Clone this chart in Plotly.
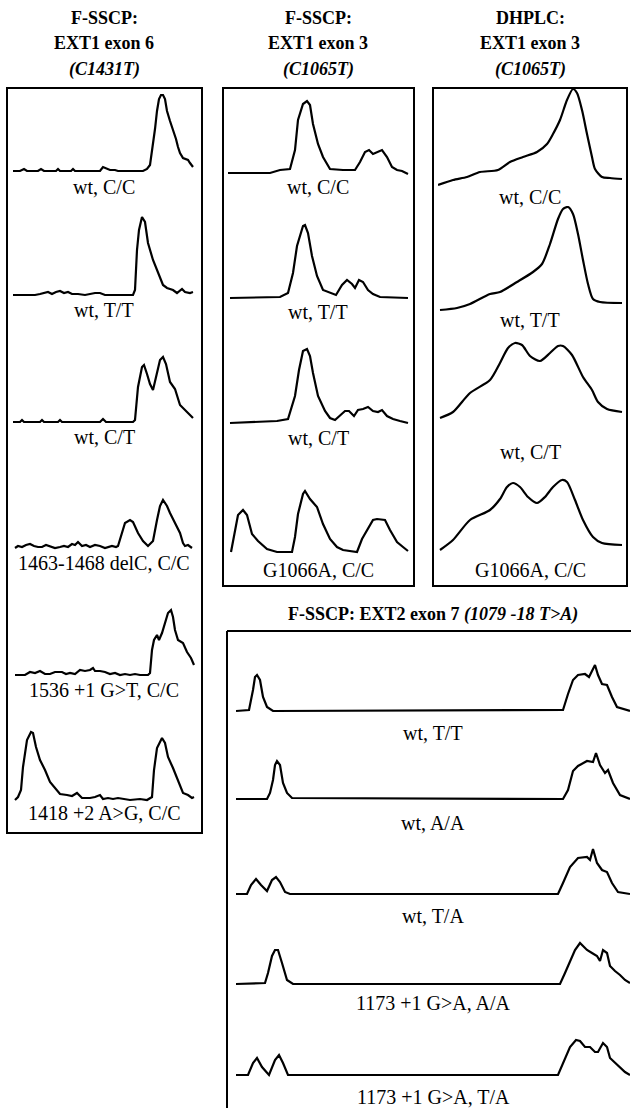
import plotly.graph_objects as go

W, H = 631, 1108

# ---------------- F-SSCP: EXT1 exon 6 (C1431T) ----------------
ex6_labels = ["wt, C/C", "wt, T/T", "wt, C/T", "1463-1468 delC, C/C",
              "1536 +1 G>T, C/C", "1418 +2 A>G, C/C"]
ex6_wt_cc_x = [0, 7, 11, 14, 25, 28, 31, 43, 45, 47, 58, 60, 62, 87, 90, 93, 97, 102, 105, 130,
               134, 137, 140, 142, 144, 146, 148, 150, 152, 154, 157, 160, 163, 165, 167, 170, 173, 175, 177, 180]
ex6_wt_cc_y = [0, 0, 2, 0, 0, 2, 0, 0, 2, 0, 0, 2, 0, 0, 4, 3, 1, 1, 0, 0,
               2, 6, 25, 42, 60, 72, 76, 76, 72, 60, 50, 42, 32, 24, 18, 13, 12, 11, 8, 4]
ex6_wt_tt_x = [0, 22, 27, 35, 39, 43, 47, 51, 55, 59, 65, 72, 82, 87, 92, 107, 120,
               122, 124, 126, 129, 132, 135, 140, 145, 150, 154, 160, 164, 169, 172, 177, 180]
ex6_wt_tt_y = [0, 0, 1, 3, 1, 3, 4, 2, 3, 1, 1, 0, 2, 2, 0, 0, 0,
               5, 45, 65, 78, 73, 52, 35, 23, 10, 7, 5, 2, 6, 3, 2, 3]
ex6_wt_ct_x = [0, 7, 9, 11, 22, 27, 29, 31, 42, 45, 47, 49, 87, 90, 93, 120,
               122, 125, 129, 131, 134, 137, 140, 144, 147, 150, 153, 157, 162, 167, 174, 180]
ex6_wt_ct_y = [0, 0, 2, 0, 0, 0, 2, 0, 0, 0, 2, 0, 0, 3, 0, 0,
               2, 35, 55, 57, 48, 38, 32, 48, 62, 65, 58, 40, 33, 17, 10, 4]
ex6_delc_x = [2, 5, 9, 13, 17, 21, 25, 29, 33, 37, 42, 47, 51, 55, 59, 62, 65, 69, 73, 77,
              82, 87, 92, 99, 103, 105, 109, 112, 117, 120, 125, 130, 135, 140, 144, 147, 150,
              154, 157, 162, 167, 170, 172, 175, 179]
ex6_delc_y = [0, 2, 1, 3, 4, 2, 1, 1, 3, 2, 0, 1, 2, 1, 4, 3, 6, 2, 3, 1,
              3, 2, 0, 2, 1, 2, 15, 25, 28, 26, 15, 7, 2, 7, 28, 42, 48,
              42, 35, 25, 15, 5, 2, 3, 0]
ex6_1536_x = [2, 12, 17, 22, 27, 32, 37, 42, 49, 53, 57, 62, 67, 72, 77, 80, 82, 87, 92, 97,
              102, 107, 112, 117, 122, 127, 135, 137, 139, 141, 144, 146, 149, 152, 155, 158,
              160, 162, 165, 170, 174, 178, 181]
ex6_1536_y = [0, 0, 3, 2, 4, 1, 1, 3, 3, 1, 2, 1, 5, 4, 5, 7, 4, 4, 3, 1,
              2, 0, 1, 0, 1, 0, 0, 2, 25, 35, 40, 35, 42, 52, 62, 65,
              58, 45, 35, 32, 23, 17, 10]
ex6_1418_x = [2, 5, 8, 10, 14, 18, 20, 23, 27, 32, 37, 42, 47, 54, 59, 64, 69, 77, 82, 87,
              90, 95, 100, 105, 110, 117, 127, 134, 139, 141, 144, 149, 152, 155, 160, 167,
              170, 175, 179, 181]
ex6_1418_y = [0, 3, 10, 33, 60, 68, 67, 53, 40, 30, 18, 12, 6, 5, 4, 7, 2, 2, 3, 5,
              1, 2, 1, 2, 1, 0, 1, 0, 3, 30, 52, 62, 57, 43, 32, 15,
              7, 5, 2, 3]

# ---------------- F-SSCP: EXT1 exon 3 (C1065T) ----------------
ex3_labels = ["wt, C/C", "wt, T/T", "wt, C/T", "G1066A, C/C"]
ex3_wt_cc_x = [0, 42, 52, 62, 67, 70, 75, 79, 82, 85, 90, 95, 102, 115, 127, 132, 137, 141,
               145, 150, 154, 159, 164, 169, 174, 180]
ex3_wt_cc_y = [0, 0, 3, 4, 23, 53, 69, 72, 68, 49, 29, 16, 4, 3, 3, 11, 21, 23,
               19, 21, 23, 16, 6, 3, 2, -1]
ex3_wt_tt_x = [2, 52, 60, 65, 69, 75, 77, 80, 84, 89, 95, 102, 108, 114, 119, 124, 127, 131,
               135, 140, 145, 152, 180]
ex3_wt_tt_y = [0, 1, 5, 25, 52, 72, 73, 65, 42, 22, 8, 5, 3, 13, 18, 14, 10, 18,
               16, 8, 4, 1, 0]
ex3_wt_ct_x = [2, 49, 60, 67, 71, 75, 79, 82, 85, 90, 97, 102, 107, 113, 117, 121, 126, 130,
               135, 140, 145, 150, 154, 159, 165, 172, 180]
ex3_wt_ct_y = [0, 2, 4, 27, 53, 72, 74, 67, 50, 27, 12, 5, 3, 8, 12, 12, 7, 13,
               14, 16, 12, 11, 13, 7, 4, 2, 0]
ex3_g1066a_x = [3, 6, 10, 15, 19, 24, 30, 39, 49, 64, 67, 70, 75, 77, 82, 89, 95, 102, 109, 115,
                129, 134, 139, 145, 149, 157, 162, 169, 175, 180]
ex3_g1066a_y = [0, 15, 37, 42, 37, 18, 11, 3, 0, 0, 15, 38, 58, 61, 53, 45, 28, 13, 5, 2,
                0, 13, 22, 32, 33, 32, 22, 10, 5, 1]

# ---------------- DHPLC: EXT1 exon 3 (C1065T) ----------------
dh_labels = ["wt, C/C", "wt, T/T", "wt, C/T", "G1066A, C/C"]
dh_wt_cc_x = [0, 15, 29, 42, 60, 72, 85, 99, 109, 115, 122, 129, 135, 139, 144, 149, 154, 157, 164, 172, 184]
dh_wt_cc_y = [2, 7, 10, 15, 17, 25, 30, 35, 43, 53, 67, 87, 98, 94, 77, 53, 30, 18, 10, 9, 8]
dh_wt_tt_x = [2, 19, 32, 52, 62, 79, 95, 104, 112, 120, 125, 130, 135, 140, 145, 150, 155, 162, 184]
dh_wt_tt_y = [2, 4, 8, 18, 20, 30, 40, 48, 68, 93, 103, 105, 98, 78, 52, 28, 13, 10, 9]
dh_wt_ct_x = [2, 15, 32, 52, 62, 70, 77, 84, 92, 102, 112, 120, 125, 134, 145, 154, 160, 169, 184]
dh_wt_ct_y = [2, 8, 27, 40, 57, 72, 77, 75, 64, 59, 67, 74, 74, 65, 43, 30, 18, 11, 8]
dh_g1066a_x = [2, 15, 32, 52, 62, 69, 75, 82, 90, 99, 107, 115, 124, 129, 137, 145, 155, 164, 184]
dh_g1066a_y = [2, 12, 32, 42, 53, 65, 69, 65, 55, 49, 55, 65, 72, 70, 52, 32, 15, 9, 7]

# ---------------- F-SSCP: EXT2 exon 7 (1079 -18 T>A) ----------------
ext2_labels = ["wt, T/T", "wt, A/A", "wt, T/A", "1173 +1 G>A, A/A", "1173 +1 G>A, T/A"]
ext2_wt_tt_x = [0, 13, 17, 19, 21, 24, 27, 31, 37, 327, 332, 337, 342, 349, 353, 357, 359, 362,
                366, 371, 376, 381, 394]
ext2_wt_tt_y = [0, 1, 21, 34, 36, 31, 14, 4, 0, 1, 17, 31, 36, 37, 34, 42, 46, 36,
                27, 26, 14, 4, 0]
ext2_wt_aa_x = [0, 31, 34, 37, 39, 41, 44, 47, 51, 56, 327, 332, 337, 342, 351, 357, 360, 364,
                369, 372, 377, 384, 394]
ext2_wt_aa_y = [0, 0, 6, 19, 34, 38, 34, 16, 6, 1, 0, 9, 28, 33, 38, 37, 46, 34,
                26, 29, 16, 4, 0]
ext2_wt_ta_x = [0, 11, 15, 20, 25, 31, 36, 40, 44, 49, 54, 322, 327, 334, 342, 351, 354, 357,
                361, 366, 371, 376, 382, 394]
ext2_wt_ta_y = [0, 0, 9, 15, 9, 3, 14, 17, 12, 2, 0, 0, 11, 27, 36, 37, 34, 45,
                31, 24, 22, 11, 2, 0]
ext2_1173_aa_x = [0, 29, 32, 36, 39, 42, 46, 51, 57, 324, 329, 336, 339, 344, 351, 356, 361, 364,
                  367, 371, 374, 379, 384, 389, 394]
ext2_1173_aa_y = [0, 1, 11, 28, 34, 34, 21, 4, 0, 0, 11, 28, 34, 41, 34, 31, 28, 23,
                  34, 31, 18, 13, 9, 4, 1]
ext2_1173_ta_x = [0, 12, 17, 21, 26, 33, 39, 43, 47, 52, 322, 327, 334, 340, 344, 349, 354, 359,
                  362, 367, 371, 374, 379, 384, 389, 394]
ext2_1173_ta_y = [0, 0, 12, 17, 8, 0, 15, 20, 12, 0, 0, 12, 28, 35, 34, 28, 28, 23,
                  23, 32, 28, 17, 12, 8, 3, 0]

# ---------------- layout geometry (pixels) ----------------
FONT = "Liberation Serif, Times New Roman, serif"

# (x data, y data, left px, width px, baseline px, smooth)
traces = [
    (ex6_wt_cc_x, ex6_wt_cc_y, 13, 182, 171, False),
    (ex6_wt_tt_x, ex6_wt_tt_y, 13, 182, 295, False),
    (ex6_wt_ct_x, ex6_wt_ct_y, 13, 182, 422, False),
    (ex6_delc_x, ex6_delc_y, 13, 182, 548, False),
    (ex6_1536_x, ex6_1536_y, 13, 182, 675, False),
    (ex6_1418_x, ex6_1418_y, 13, 182, 800, False),
    (ex3_wt_cc_x, ex3_wt_cc_y, 228, 182, 173, False),
    (ex3_wt_tt_x, ex3_wt_tt_y, 228, 182, 298, False),
    (ex3_wt_ct_x, ex3_wt_ct_y, 228, 182, 423, False),
    (ex3_g1066a_x, ex3_g1066a_y, 228, 182, 552, False),
    (dh_wt_cc_x, dh_wt_cc_y, 438, 186, 187, True),
    (dh_wt_tt_x, dh_wt_tt_y, 438, 186, 312, True),
    (dh_wt_ct_x, dh_wt_ct_y, 438, 186, 420, True),
    (dh_g1066a_x, dh_g1066a_y, 438, 186, 552, True),
    (ext2_wt_tt_x, ext2_wt_tt_y, 236, 394, 711, False),
    (ext2_wt_aa_x, ext2_wt_aa_y, 236, 394, 799, False),
    (ext2_wt_ta_x, ext2_wt_ta_y, 236, 394, 894, False),
    (ext2_1173_aa_x, ext2_1173_aa_y, 236, 394, 984, False),
    (ext2_1173_ta_x, ext2_1173_ta_y, 236, 394, 1075, False),
]

fig = go.Figure()
axes = {}
for i, (xs, ys, x0, wd, base, smooth) in enumerate(traces, start=1):
    xa = "x" if i == 1 else f"x{i}"
    ya = "y" if i == 1 else f"y{i}"
    line = dict(color="black", width=2.2)
    if smooth:
        line.update(shape="spline", smoothing=0.7)
    fig.add_trace(go.Scatter(x=xs, y=ys, xaxis=xa, yaxis=ya, mode="lines",
                             line=line, hoverinfo="skip", showlegend=False))
    axes["xaxis" if i == 1 else f"xaxis{i}"] = dict(
        domain=[x0 / W, min(1, (x0 + wd) / W)], range=[0, wd], visible=False,
        anchor=ya, fixedrange=True)
    axes["yaxis" if i == 1 else f"yaxis{i}"] = dict(
        domain=[1 - (base + 4) / H, 1 - (base - 106) / H], range=[-4, 106],
        visible=False, anchor=xa, fixedrange=True)

fig.update_layout(**axes)

# label positions (center x px, y px)
label_sets = [
    (ex6_labels, 104, [187, 310, 437, 563, 690, 813]),
    (ex3_labels, 318, [187, 312, 438, 570]),
    (dh_labels, 530, [197, 320, 452, 570]),
    (ext2_labels, 433, [733, 823, 916, 1003, 1097]),
]
annotations = []
for labels, cx, ys in label_sets:
    for lab, yy in zip(labels, ys):
        annotations.append(dict(x=cx / W, y=1 - yy / H, xref="paper", yref="paper",
                                text=lab, showarrow=False, xanchor="center", yanchor="middle",
                                font=dict(family=FONT, size=20, color="black")))

titles = [
    (104, ["<b>F-SSCP:</b>", "<b>EXT1 exon 6</b>", "<b><i>(C1431T)</i></b>"]),
    (318, ["<b>F-SSCP:</b>", "<b>EXT1 exon 3</b>", "<b><i>(C1065T)</i></b>"]),
    (530, ["<b>DHPLC:</b>", "<b>EXT1 exon 3</b>", "<b><i>(C1065T)</i></b>"]),
]
for cx, lines in titles:
    for txt, yy in zip(lines, [18, 43, 69]):
        annotations.append(dict(x=cx / W, y=1 - yy / H, xref="paper", yref="paper",
                                text=txt, showarrow=False, xanchor="center", yanchor="middle",
                                font=dict(family=FONT, size=18, color="black")))
annotations.append(dict(x=433 / W, y=1 - 614 / H, xref="paper", yref="paper",
                        text="<b>F-SSCP: EXT2 exon 7 <i>(1079 -18 T>A)</i></b>",
                        showarrow=False, xanchor="center", yanchor="middle",
                        font=dict(family=FONT, size=18, color="black")))

def px_rect(x0, y0, x1, y1):
    return dict(type="rect", xref="paper", yref="paper",
                x0=x0 / W, x1=x1 / W, y0=1 - y1 / H, y1=1 - y0 / H,
                line=dict(color="black", width=2), fillcolor="rgba(0,0,0,0)")

def px_line(x0, y0, x1, y1):
    return dict(type="line", xref="paper", yref="paper",
                x0=x0 / W, x1=x1 / W, y0=1 - y0 / H, y1=1 - y1 / H,
                line=dict(color="black", width=2))

shapes = [
    px_rect(7, 88, 202, 833),
    px_rect(223, 88, 414, 586),
    px_rect(433, 88, 627, 586),
    px_line(227, 631, 631, 631),
    px_line(227, 631, 227, 1108),
]

fig.update_layout(
    width=W, height=H, autosize=False,
    margin=dict(l=0, r=0, t=0, b=0),
    paper_bgcolor="white", plot_bgcolor="rgba(0,0,0,0)",
    annotations=annotations, shapes=shapes, showlegend=False,
)

fig.write_html("out.html", config={"displayModeBar": False},
               post_script="document.body.style.margin='0';")
